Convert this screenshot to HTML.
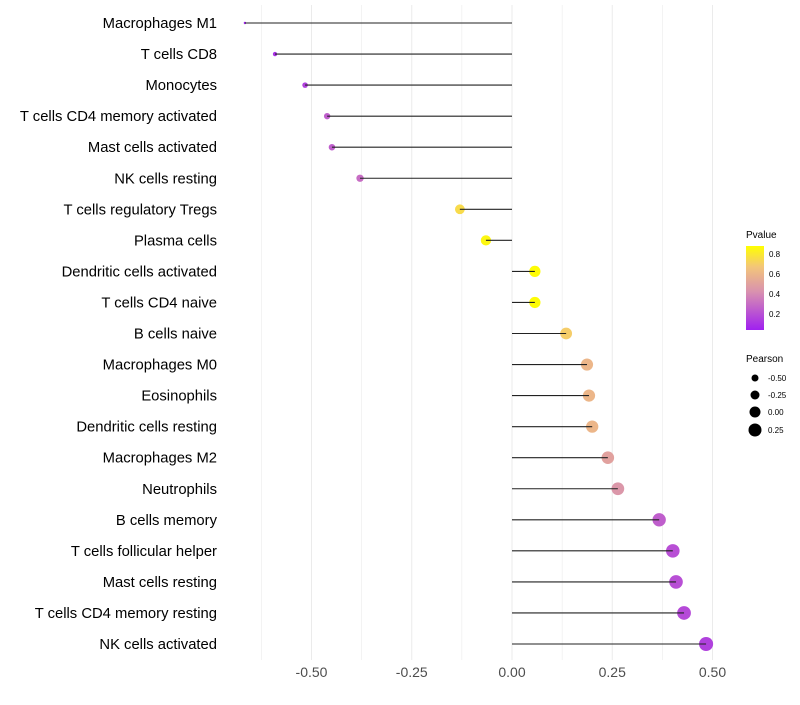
<!DOCTYPE html>
<html><head><meta charset="utf-8"><style>
body{margin:0;background:#fff;font-family:"Liberation Sans",sans-serif}
</style></head><body>
<svg id="chart" width="800" height="700" xmlns="http://www.w3.org/2000/svg">
<defs><linearGradient id="pg" x1="0" y1="1" x2="0" y2="0">
<stop offset="0" stop-color="#A020F0"/><stop offset="0.45" stop-color="#D890B0"/><stop offset="0.75" stop-color="#F3C57A"/><stop offset="1" stop-color="#FFFF00"/></linearGradient></defs>
<g id="grid"></g><g id="marks"></g><g id="ylab"></g><g id="xlab"></g>
<g>
<text x="746" y="238" font-size="10">Pvalue</text>
<rect x="746" y="246" width="18" height="84" fill="url(#pg)"/>
<text x="769" y="257" font-size="8">0.8</text><text x="769" y="277" font-size="8">0.6</text>
<text x="769" y="297" font-size="8">0.4</text><text x="769" y="317" font-size="8">0.2</text>
</g>
<g>
<text x="746" y="362" font-size="10">Pearson</text>
<circle cx="755" cy="378" r="3.5"/><text x="768" y="381" font-size="8">-0.50</text>
<circle cx="755" cy="395" r="4.5"/><text x="768" y="398" font-size="8">-0.25</text>
<circle cx="755" cy="412" r="5.5"/><text x="768" y="415" font-size="8">0.00</text>
<circle cx="755" cy="430" r="6.5"/><text x="768" y="433" font-size="8">0.25</text>
</g>
</svg>
<script>
const categories=["Macrophages M1","T cells CD8","Monocytes","T cells CD4 memory activated","Mast cells activated","NK cells resting","T cells regulatory  Tregs ","Plasma cells","Dendritic cells activated","T cells CD4 naive","B cells naive","Macrophages M0","Eosinophils","Dendritic cells resting","Macrophages M2","Neutrophils","B cells memory","T cells follicular helper","Mast cells resting","T cells CD4 memory resting","NK cells activated"];
const pearson=[-0.666,-0.591,-0.516,-0.461,-0.449,-0.379,-0.130,-0.065,0.057,0.057,0.135,0.187,0.192,0.200,0.239,0.264,0.367,0.401,0.409,0.429,0.484];
const pvalues=[0.05,0.1,0.15,0.25,0.25,0.3,0.75,0.85,0.87,0.87,0.7,0.6,0.6,0.6,0.5,0.45,0.25,0.2,0.2,0.18,0.15];
const xticks=[-0.5,-0.25,0,0.25,0.5];
const xtickLabels=["-0.50","-0.25","0.00","0.25","0.50"];
const NS="http://www.w3.org/2000/svg";
const xs=v=>512+v*401;
const ys=i=>23+i*31.05;
function col(p){const t=Math.max(0,Math.min(1,(p-0.04)/0.84));
 const stops=[[0,[160,32,240]],[0.45,[216,144,176]],[0.75,[243,197,122]],[1,[255,255,0]]];
 for(let k=1;k<stops.length;k++){if(t<=stops[k][0]){const a=stops[k-1],b=stops[k];const u=(t-a[0])/(b[0]-a[0]);
 return `rgb(${a[1].map((c,j)=>Math.round(c+(b[1][j]-c)*u)).join(',')})`;}}return "rgb(255,255,0)";}
function mk(tag,attrs,parent){const e=document.createElementNS(NS,tag);for(const k in attrs)e.setAttribute(k,attrs[k]);parent.appendChild(e);return e;}
const grid=document.getElementById('grid'),marks=document.getElementById('marks'),yl=document.getElementById('ylab'),xl=document.getElementById('xlab');
for(let v=-0.625;v<=0.55;v+=0.125){const g=mk('line',{x1:xs(v),x2:xs(v),y1:5,y2:660,stroke:'#ebebeb','stroke-width':Math.abs((v*4)%1)<1e-6?1:0.6},grid);

}
xticks.forEach((v,i)=>{const t=mk('text',{x:xs(v),y:677,'font-size':14,'text-anchor':'middle',fill:'#4d4d4d'},xl);t.textContent=xtickLabels[i];

});
categories.forEach((c,i)=>{const y=ys(i);
const t=mk('text',{x:217,y:y+5,'font-size':14.8,'text-anchor':'end',fill:'#000'},yl);t.textContent=c;


const r=Math.sqrt(1.5+(pearson[i]+0.666)/1.15*48);
const p=mk('circle',{cx:xs(pearson[i]),cy:y,r:r,fill:col(pvalues[i])},marks);


const l=mk('line',{x1:xs(0),x2:xs(pearson[i]),y1:y,y2:y,stroke:'#222','stroke-width':1.1},marks);

});
</script>
</body></html>
